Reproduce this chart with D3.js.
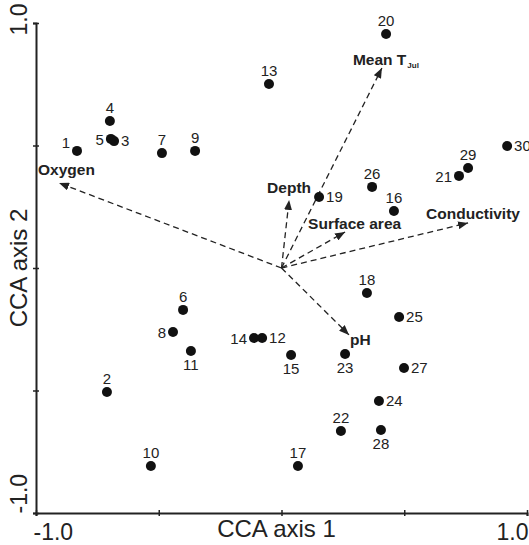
<!DOCTYPE html>
<html lang="en">
<head>
    <meta charset="UTF-8">
    <script src="https://d3js.org/d3.v7.min.js"></script>
    <title>CCA biplot</title>
    <style>
        body { margin: 0; background: #fff; }
        text { font-family: "Liberation Sans", Arial, sans-serif; fill: #222; }
    </style>
</head>
<body>
<div id="viz"></div>
<script>
    // sites: id, CCA axis 1, CCA axis 2
    const siteIds = [1, 2, 3, 4, 5, 6, 7, 8, 9, 10, 11, 12, 13, 14, 15,
        16, 17, 18, 19, 20, 21, 22, 23, 24, 25, 26, 27, 28, 29, 30];
    const siteAxis1 = [-0.833, -0.711, -0.682, -0.699, -0.695, -0.401, -0.487, -0.442, -0.352, -0.532,
        -0.369, -0.079, -0.051, -0.112, 0.039, 0.458, 0.067, 0.348, 0.153, 0.426,
        0.723, 0.242, 0.259, 0.397, 0.479, 0.369, 0.499, 0.405, 0.760, 0.919];
    const siteAxis2 = [0.478, -0.506, 0.518, 0.600, 0.527, -0.171, 0.469, -0.261, 0.478, -0.808,
        -0.339, -0.286, 0.751, -0.286, -0.355, 0.233, -0.808, -0.102, 0.290, 0.955,
        0.376, -0.665, -0.351, -0.543, -0.200, 0.331, -0.408, -0.661, 0.408, 0.498];

    // environmental variables (arrow tips)
    const envNames = ["Oxygen", "Mean T", "Depth", "Surface area", "Conductivity", "pH"];
    const envAxis1 = [-0.906, 0.409, 0.031, 0.259, 0.760, 0.275];
    const envAxis2 = [0.347, 0.816, 0.278, 0.147, 0.184, -0.273];

    const tickValues = [-1, -0.5, 0, 0.5, 1];

    // where each site number sits next to its dot
    const labelSide = {
        1: "upleft", 3: "right", 5: "left", 8: "left", 14: "left", 21: "left",
        11: "below", 15: "below", 23: "below", 28: "below",
        12: "right", 19: "right", 24: "right", 25: "right", 27: "right", 30: "right"
    };
    const sideOffset = {
        above: [0, -8, "middle"],
        left: [-7, 6, "end"],
        upleft: [-7, -3, "end"],
        right: [7, 5, "start"],
        below: [0, 19, "middle"]
    };
    // arrow label offsets from tip, px
    const envLabelOffset = [[-21, -8], [-29, -3], [-22, -7], [-37, -3], [-42, -4], [1, 10]];

    const width = 529, height = 545;
    const margin = {top: 23, right: 2, bottom: 32, left: 36};

    const svg = d3.select("#viz")
        .append("svg")
        .attr("width", width)
        .attr("height", height);

    const x = d3.scaleLinear().domain([-1, 1]).range([margin.left, width - margin.right]);
    const y = d3.scaleLinear().domain([-1, 1]).range([height - margin.bottom, margin.top]);

    // arrowhead
    svg.append("defs").append("marker")
        .attr("id", "head")
        .attr("viewBox", "0 0 10 8")
        .attr("refX", 10).attr("refY", 4)
        .attr("markerUnits", "userSpaceOnUse")
        .attr("markerWidth", 10).attr("markerHeight", 8)
        .attr("orient", "auto")
        .append("path")
        .attr("d", "M0,0 L10,4 L0,8 Z")
        .attr("fill", "#222");

    // axes
    const fmt = d => Math.abs(d) === 1 ? d.toFixed(1) : "";
    const gx = svg.append("g")
        .attr("transform", `translate(0, ${y(-1)})`)
        .call(d3.axisBottom(x).tickValues(tickValues).tickFormat(fmt).tickSizeOuter(0).tickSize(3));
    const gy = svg.append("g")
        .attr("transform", `translate(${x(-1)}, 0)`)
        .call(d3.axisLeft(y).tickValues(tickValues).tickFormat(fmt).tickSizeOuter(0).tickSize(3));

    [gx, gy].forEach(g => {
        g.select(".domain").attr("stroke", "#222").attr("stroke-width", 2);
        g.selectAll(".tick line").attr("stroke", "#222").attr("stroke-width", 1.5);
    });
    gx.selectAll(".tick line").attr("y1", -3).attr("y2", 3);
    gy.selectAll(".tick line").attr("x1", -3).attr("x2", 3);

    gx.selectAll(".tick text")
        .attr("fill", "#222")
        .style("font-size", "23px")
        .attr("y", 27).attr("dy", 0)
        .attr("text-anchor", d => d < 0 ? "start" : "end")
        .attr("x", d => d < 0 ? -3 : 1);
    gy.selectAll(".tick text")
        .attr("fill", "#222")
        .style("font-size", "23px")
        .attr("x", 0).attr("dy", 0)
        .attr("text-anchor", d => d < 0 ? "start" : "end")
        .attr("transform", d => d < 0 ? "translate(-9, 0) rotate(-90)" : "translate(-9, -20) rotate(-90)");

    svg.append("text")
        .attr("x", (x(-1) + x(1)) / 2 - 5)
        .attr("y", 537)
        .attr("text-anchor", "middle")
        .style("font-size", "24px")
        .text("CCA axis 1");
    svg.append("text")
        .attr("transform", `translate(27, ${y(0)}) rotate(-90)`)
        .attr("text-anchor", "middle")
        .style("font-size", "24px")
        .text("CCA axis 2");

    // environmental arrows
    const env = envNames.map((n, i) => ({name: n, a1: envAxis1[i], a2: envAxis2[i], off: envLabelOffset[i]}));
    svg.selectAll(".env")
        .data(env)
        .join("line")
        .attr("class", "env")
        .attr("x1", x(0)).attr("y1", y(0))
        .attr("x2", d => x(d.a1)).attr("y2", d => y(d.a2))
        .attr("stroke", "#222")
        .attr("stroke-width", 1.3)
        .attr("stroke-dasharray", "6,4")
        .attr("marker-end", "url(#head)");

    const envText = svg.selectAll(".envlab")
        .data(env)
        .join("text")
        .attr("class", "envlab")
        .attr("x", d => x(d.a1) + d.off[0])
        .attr("y", d => y(d.a2) + d.off[1])
        .style("font-size", "15.5px")
        .style("font-weight", "bold")
        .text(d => d.name);
    envText.filter(d => d.name === "Mean T")
        .append("tspan")
        .attr("dx", 1).attr("dy", 3)
        .style("font-size", "8px")
        .text("Jul");

    // sites
    const sites = siteIds.map((id, i) => ({id: id, a1: siteAxis1[i], a2: siteAxis2[i]}));
    svg.selectAll(".site")
        .data(sites)
        .join("circle")
        .attr("class", "site")
        .attr("cx", d => x(d.a1))
        .attr("cy", d => y(d.a2))
        .attr("r", 5)
        .attr("fill", "#111");

    svg.selectAll(".sitelab")
        .data(sites)
        .join("text")
        .attr("class", "sitelab")
        .each(function (d) {
            const o = sideOffset[labelSide[d.id] || "above"];
            d3.select(this)
                .attr("x", x(d.a1) + o[0])
                .attr("y", y(d.a2) + o[1])
                .attr("text-anchor", o[2]);
        })
        .style("font-size", "15px")
        .text(d => d.id);
</script>
</body>
</html>
